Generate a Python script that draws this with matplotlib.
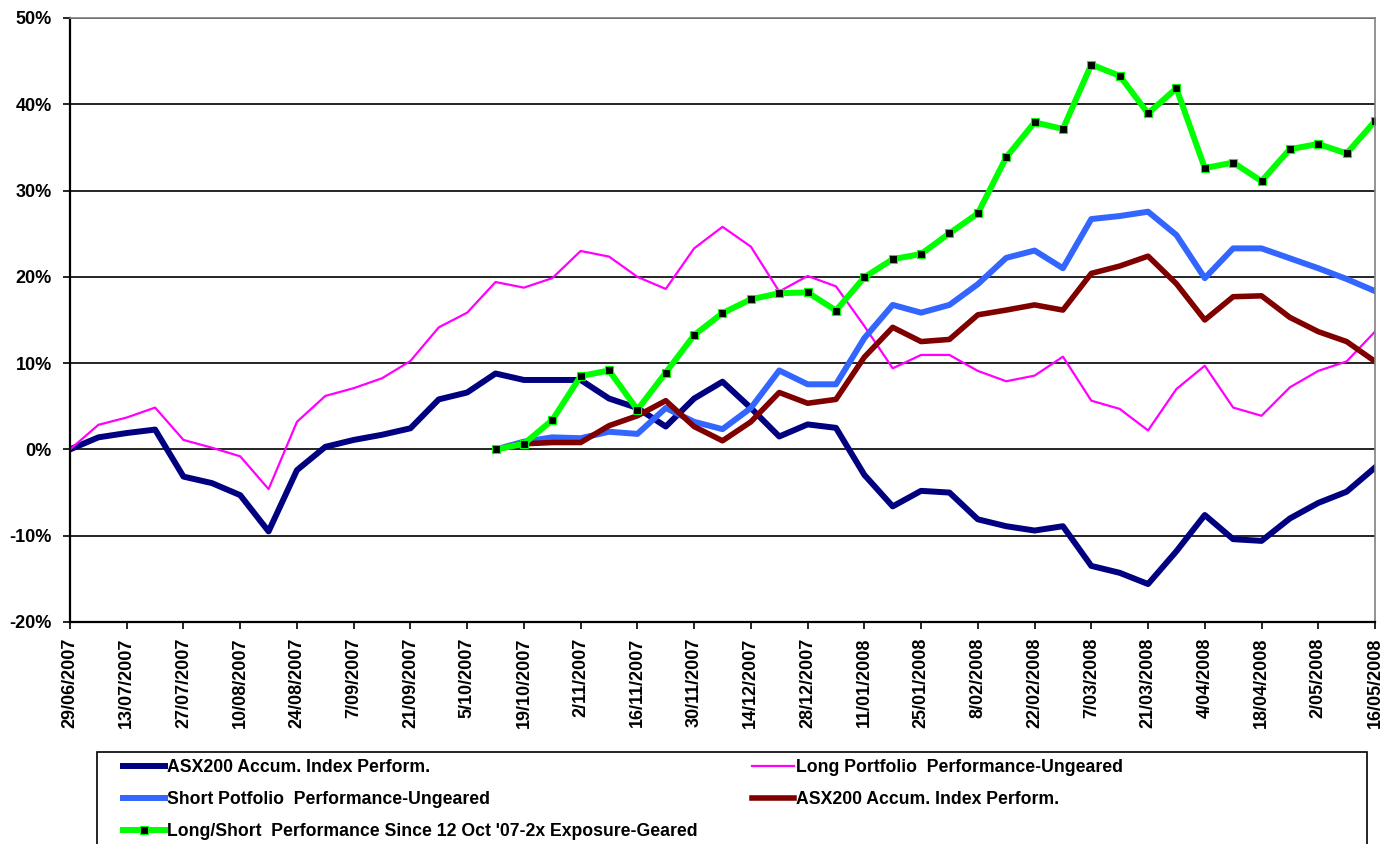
import numpy as np
import matplotlib.pyplot as plt
from matplotlib.patches import Rectangle

# weekly observations, 29/06/2007 .. 16/05/2008 (47 weeks)
tick_labels = ['29/06/2007', '13/07/2007', '27/07/2007', '10/08/2007', '24/08/2007',
               '7/09/2007', '21/09/2007', '5/10/2007', '19/10/2007', '2/11/2007',
               '16/11/2007', '30/11/2007', '14/12/2007', '28/12/2007', '11/01/2008',
               '25/01/2008', '8/02/2008', '22/02/2008', '7/03/2008', '21/03/2008',
               '4/04/2008', '18/04/2008', '2/05/2008', '16/05/2008']

# ASX200 accumulation index, whole period (%)
asx_full = [0.0, 1.4, 1.9, 2.3, -3.15, -3.9, -5.3, -9.5, -2.4, 0.3, 1.1, 1.7, 2.45, 5.8, 6.6,
            8.8, 8.05, 8.05, 8.05, 5.9, 4.8, 2.65, 5.9, 7.85, 4.8, 1.5, 2.9, 2.5, -2.95, -6.6,
            -4.8, -5.0, -8.1, -8.9, -9.4, -8.9, -13.5, -14.3, -15.6, -11.8, -7.6, -10.4, -10.6,
            -8.0, -6.2, -4.9, -2.1]

# long portfolio, ungeared (%)
long_port = [0.0, 2.85, 3.7, 4.85, 1.1, 0.2, -0.8, -4.6, 3.2, 6.2, 7.1, 8.25, 10.25, 14.15, 15.85,
             19.4, 18.75, 19.85, 23.0, 22.35, 20.0, 18.6, 23.3, 25.8, 23.5, 18.3, 20.1, 18.9, 14.3, 9.4,
             10.95, 10.95, 9.1, 7.9, 8.55, 10.75, 5.65, 4.7, 2.2, 7.0, 9.7, 4.85, 3.9, 7.2, 9.1, 10.2,
             13.65]

# series starting 12/10/2007 (index 15)
start = 15
short_port = [0.0, 0.9, 1.4, 1.3, 2.05, 1.8, 4.8, 3.2, 2.35, 4.8, 9.15, 7.55, 7.55, 12.9, 16.75,
              15.85, 16.75, 19.15, 22.2, 23.05, 21.0, 26.7, 27.05, 27.55, 24.85, 19.85, 23.3, 23.3,
              22.15, 21.0, 19.75, 18.35]
asx_since = [0.0, 0.65, 0.8, 0.8, 2.75, 3.9, 5.65, 2.65, 1.0, 3.2, 6.6, 5.35, 5.8, 10.7, 14.15,
             12.5, 12.75, 15.6, 16.15, 16.75, 16.15, 20.4, 21.25, 22.4, 19.2, 15.0, 17.7, 17.8,
             15.3, 13.65, 12.5, 10.2]
long_short = [0.0, 0.65, 3.4, 8.5, 9.15, 4.6, 8.9, 13.25, 15.8, 17.4, 18.1, 18.2, 16.1, 19.95,
              22.05, 22.65, 25.05, 27.35, 33.85, 37.9, 37.15, 44.6, 43.3, 38.95, 41.85, 32.6,
              33.25, 31.1, 34.8, 35.4, 34.3, 38.05]

y_ticks = [-20, -10, 0, 10, 20, 30, 40, 50]
y_tick_labels = ['-20%', '-10%', '0%', '10%', '20%', '30%', '40%', '50%']

W, H = 1385, 844
fig = plt.figure(figsize=(W / 100, H / 100), dpi=100)
ax = fig.add_axes([70 / W, 1 - 622 / H, 1305 / W, 604 / H])

x_full = np.arange(len(asx_full))
x_since = np.arange(start, start + len(short_port))

l1, = ax.plot(x_full, asx_full, color='#000080', lw=4.3)
l2, = ax.plot(x_full, long_port, color='#FF00FF', lw=1.6)
l3, = ax.plot(x_since, short_port, color='#3366FF', lw=4.3)
l4, = ax.plot(x_since, asx_since, color='#800000', lw=4.0)
l5, = ax.plot(x_since, long_short, color='#00FF00', lw=4.3, marker='s', ms=6,
              mfc='black', mec='#00FF00', mew=0.8)

font = {'family': 'Liberation Sans', 'weight': 'bold', 'size': 13}
ax.set_xlim(0, len(asx_full) - 1)
ax.set_ylim(-20, 50)
ax.set_yticks(y_ticks)
ax.set_yticklabels(y_tick_labels, **font)
ax.set_xticks(np.arange(0, len(asx_full), 2))
ax.set_xticklabels(tick_labels, rotation=90, **font)
ax.tick_params(axis='both', direction='out', length=5, width=1.2, colors='black')
ax.tick_params(axis='y', pad=8)
ax.tick_params(axis='x', pad=6)
ax.yaxis.grid(True, color='black', lw=1.2)
ax.set_axisbelow(True)
for s in ['top', 'right']:
    ax.spines[s].set_color('#808080')
    ax.spines[s].set_linewidth(1.2)
for s in ['left', 'bottom']:
    ax.spines[s].set_color('black')
    ax.spines[s].set_linewidth(1.6)

# legend frame runs off the bottom of the picture
fig.patches.append(Rectangle((97 / W, -0.05), (1367 - 97) / W, 0.05 + 1 - 752 / H,
                             transform=fig.transFigure, fill=False, ec='black', lw=1.2))

lkw = dict(frameon=False, loc='upper left', handlelength=2.4, handletextpad=0.1,
           borderpad=0, borderaxespad=0, labelspacing=0.83,
           prop={'family': 'Liberation Sans', 'weight': 'bold', 'size': 12.7})
fig.legend([l1, l3, l5],
           ['ASX200 Accum. Index Perform.', 'Short Potfolio  Performance-Ungeared',
            "Long/Short  Performance Since 12 Oct '07-2x Exposure-Geared"],
           bbox_to_anchor=(123 / W, 1 - 759.5 / H), **lkw)
fig.legend([l2, l4],
           ['Long Portfolio  Performance-Ungeared', 'ASX200 Accum. Index Perform.'],
           bbox_to_anchor=(752 / W, 1 - 759.5 / H), **lkw)

fig.savefig('out.png', dpi=100)
